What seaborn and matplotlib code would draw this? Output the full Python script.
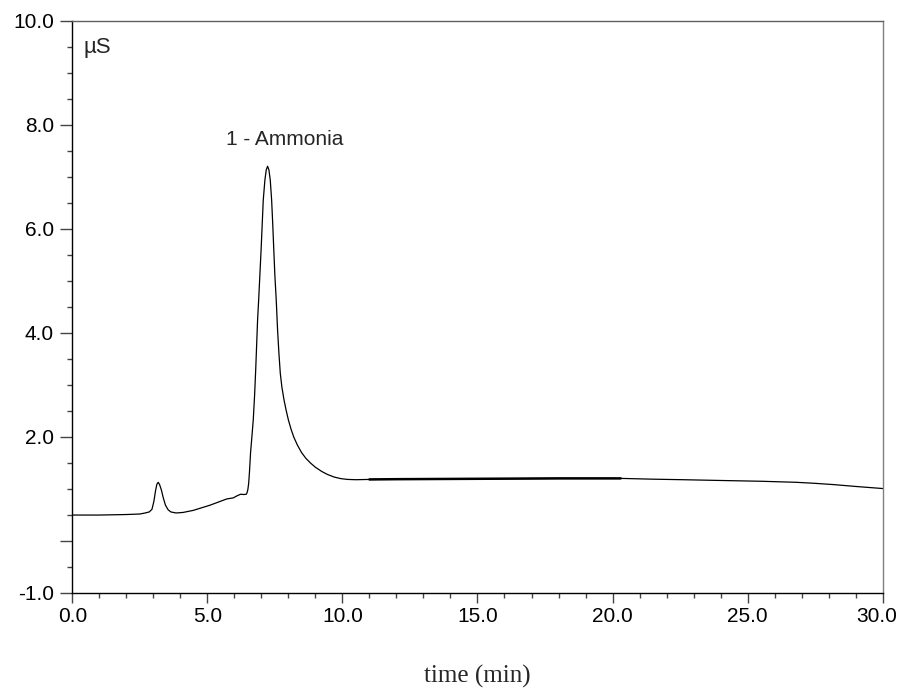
import numpy as np
import pandas as pd
import matplotlib
matplotlib.use("Agg")
import matplotlib.pyplot as plt
import matplotlib.transforms as mtransforms
import seaborn as sns
from matplotlib.ticker import MultipleLocator, FixedLocator

# ---- data ----
time_min = [0.0, 1.0, 2.0, 2.5, 2.7, 2.85, 2.95, 3.02, 3.08, 3.13, 3.18, 3.23,
            3.30, 3.37, 3.45, 3.55, 3.65, 3.84, 4.1, 4.48, 5.10, 5.72, 5.96,
            6.10, 6.23, 6.35, 6.44, 6.47, 6.50, 6.53, 6.56, 6.60, 6.65, 6.70,
            6.75, 6.79, 6.86, 6.90, 6.99, 7.07, 7.13, 7.18, 7.23, 7.28, 7.33,
            7.38, 7.42, 7.46, 7.50, 7.55, 7.60, 7.65, 7.70, 7.76, 7.84, 7.92,
            8.00, 8.10, 8.20, 8.33, 8.49, 8.65, 8.82, 9.00, 9.23, 9.45, 9.70,
            9.95, 10.2, 10.5, 11.0, 12.0, 14.0, 16.0, 18.0, 20.3, 21.5, 22.6,
            24.0, 25.5, 26.8, 27.5, 28.2, 29.0, 30.0]
signal_uS = [0.49, 0.49, 0.50, 0.51, 0.53, 0.55, 0.60, 0.75, 0.95, 1.08, 1.12, 1.08,
             0.97, 0.82, 0.68, 0.59, 0.55, 0.53, 0.54, 0.58, 0.68, 0.80, 0.82,
             0.86, 0.89, 0.885, 0.89, 0.92, 0.98, 1.10, 1.32, 1.69, 2.00, 2.32,
             2.80, 3.28, 4.24, 4.63, 5.59, 6.55, 6.93, 7.13, 7.20, 7.13, 6.93,
             6.55, 6.10, 5.59, 5.10, 4.63, 4.05, 3.60, 3.22, 2.95, 2.70, 2.50,
             2.32, 2.14, 1.99, 1.84, 1.69, 1.58, 1.49, 1.41, 1.33, 1.27, 1.22,
             1.19, 1.175, 1.17, 1.175, 1.18, 1.185, 1.19, 1.195, 1.195, 1.18, 1.17,
             1.155, 1.14, 1.12, 1.10, 1.075, 1.04, 1.00]
baseline_start = 10.84
baseline_end = 20.3

peak_label = "1 - Ammonia"
peak_label_pos = (5.69, 7.61)
unit_label = "µS"

x_ticks = [0, 5, 10, 15, 20, 25, 30]
x_ticklabels = ["0.0", "5.0", "10.0", "15.0", "20.0", "25.0", "30.0"]
y_ticks = [-1, 0, 2, 4, 6, 8, 10]
y_ticklabels = ["-1.0", "", "2.0", "4.0", "6.0", "8.0", "10.0"]

df = pd.DataFrame({"time": time_min, "signal": signal_uS})
df_base = df[(df["time"] >= baseline_start) & (df["time"] <= baseline_end)]

sns.set_style("ticks")
plt.rcParams["font.family"] = ["Liberation Sans", "DejaVu Sans"]

fig = plt.figure(figsize=(9.01, 6.90), dpi=100)
ax = fig.add_axes([0.0802, 0.1413, 0.8995, 0.8287])

sns.lineplot(data=df, x="time", y="signal", ax=ax, color="black", lw=0.9,
             estimator=None, sort=False)
sns.lineplot(data=df_base, x="time", y="signal", ax=ax, color="black", lw=1.8,
             estimator=None, sort=False)

ax.set_xlim(0, 30)
ax.set_ylim(-1, 10)

ax.xaxis.set_major_locator(FixedLocator(x_ticks))
ax.set_xticklabels(x_ticklabels)
ax.xaxis.set_minor_locator(MultipleLocator(1))
ax.yaxis.set_major_locator(FixedLocator(y_ticks))
ax.set_yticklabels(y_ticklabels)
ax.yaxis.set_minor_locator(MultipleLocator(0.5))

ax.tick_params(axis="both", which="both", direction="out", colors="#444444",
               labelcolor="black", width=1.0, labelsize=15)
ax.tick_params(axis="y", which="major", length=8.6, pad=4.5)
ax.tick_params(axis="x", which="major", length=7.2, pad=3.5)
ax.tick_params(axis="both", which="minor", length=3.6)

# shift the last x tick label slightly left so it stays inside the figure
last = ax.get_xticklabels()[-1]
last.set_transform(last.get_transform() +
                   mtransforms.ScaledTranslation(-6 / 100, 0, fig.dpi_scale_trans))

for side in ["left", "bottom"]:
    ax.spines[side].set_color("black")
    ax.spines[side].set_linewidth(1.0)
ax.spines["top"].set_color("#606060")
ax.spines["right"].set_color("#808080")
ax.spines["top"].set_linewidth(1.0)
ax.spines["right"].set_linewidth(1.0)
ax.spines["top"].set_visible(True)
ax.spines["right"].set_visible(True)

ax.set_ylabel("")
ax.set_xlabel("time (min)", fontfamily=["Liberation Serif", "DejaVu Serif"], fontsize=18)
ax.xaxis.set_label_coords(0.5, -0.126)

ax.text(0.0136, 9.37, unit_label, transform=ax.get_yaxis_transform(),
        fontsize=16, ha="left", va="baseline")
ax.text(peak_label_pos[0], peak_label_pos[1], peak_label, fontsize=15,
        ha="left", va="baseline")

fig.savefig("out.png", dpi=100)
